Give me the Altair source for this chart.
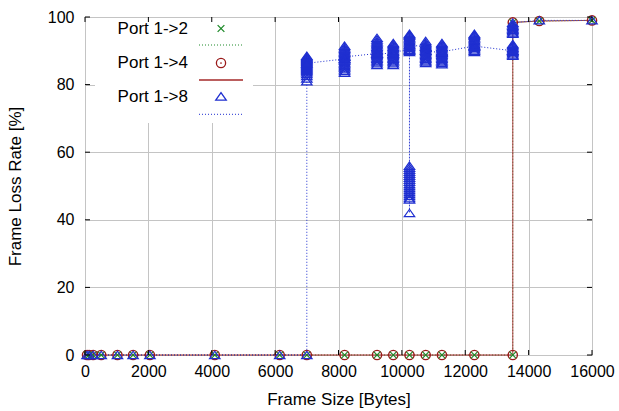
import altair as alt
import pandas as pd

# ---------------- data ----------------
frame_sizes = [64, 128, 256, 512, 1024, 1518, 2048, 4096, 6144, 7000,
               8192, 9216, 9728, 10240, 10752, 11264, 12288, 13500, 14336, 16000]

loss_port_1_2 = [[0], [0], [0], [0], [0], [0], [0], [0], [0], [0],
                 [0], [0], [0], [0], [0], [0], [0], [0, 98.4], [98.8], [99.0]]

loss_port_1_4 = [[0], [0], [0], [0], [0], [0], [0], [0], [0], [0],
                 [0], [0], [0], [0], [0], [0], [0], [0, 98.4], [98.8], [99.0]]

loss_port_1_8 = [
    [0], [0], [0], [0], [0], [0], [0], [0], [0],
    [0, 81.0, 81.8, 82.5, 83.1, 83.6, 84.0, 84.3, 84.6, 84.9, 85.2, 85.5, 85.8, 86.1,
     86.4, 86.7, 87.0, 87.3, 87.6, 87.9, 88.2, 88.5, 86.3],
    [87.6, 83.5, 84.0, 84.5, 85.0, 85.4, 85.8, 86.2, 86.6, 87.0, 87.4, 87.8, 88.2, 88.6,
     89.0, 89.4, 89.8, 90.2, 90.6, 91.0, 91.5, 88.2],
    [89.2, 85.8, 86.3, 86.8, 87.2, 87.6, 88.0, 88.4, 88.8, 89.2, 89.6, 90.0, 90.4, 90.8,
     91.2, 91.6, 92.0, 92.4, 92.8, 93.3, 93.8, 89.2],
    [89.2, 85.8, 86.3, 86.8, 87.2, 87.6, 88.0, 88.4, 88.8, 89.2, 89.6, 90.0, 90.4, 90.8,
     91.2, 91.6, 92.0, 92.3, 89.7],
    [90.2, 89.6, 90.0, 90.4, 90.8, 91.2, 91.6, 92.0, 92.4, 92.8, 93.2, 93.6, 94.0, 94.4,
     94.7, 95.0,
     56.0, 55.4, 54.8, 54.2, 53.6, 53.0, 52.4, 51.8, 51.2, 50.6, 50.0, 49.4, 48.8, 48.2,
     47.6, 47.0, 46.4, 46.0, 42.0, 91.7],
    [91.2, 86.4, 86.8, 87.2, 87.6, 88.0, 88.4, 88.8, 89.2, 89.6, 90.0, 90.4, 90.8, 91.2,
     91.6, 92.0, 92.4, 92.9, 90.0],
    [89.4, 86.0, 86.4, 86.8, 87.2, 87.6, 88.0, 88.4, 88.8, 89.2, 89.6, 90.0, 90.4, 90.8,
     91.2, 91.6, 92.0, 92.3, 89.7],
    [91.4, 89.6, 90.0, 90.4, 90.8, 91.2, 91.6, 92.0, 92.4, 92.8, 93.2, 93.6, 94.0, 94.4,
     94.7, 95.0, 91.4],
    [90.0, 88.5, 88.9, 89.3, 89.7, 90.1, 90.5, 90.9, 91.3, 91.7, 92.0,
     95.0, 95.4, 95.8, 96.2, 96.6, 97.0, 97.4, 97.8, 98.3],
    [99.0],
    [99.0],
]

series_names = ["Port 1->2", "Port 1->4", "Port 1->8"]
series_colors = ["#1f8a2a", "#a52a2a", "#1f2fd0"]

x_ticks = [0, 2000, 4000, 6000, 8000, 10000, 12000, 14000, 16000]
y_ticks = [0, 20, 40, 60, 80, 100]

rows = []
for name, trials in zip(series_names, [loss_port_1_2, loss_port_1_4, loss_port_1_8]):
    k = 0
    for size, vals in zip(frame_sizes, trials):
        for v in vals:
            rows.append({"series": name, "size": size, "loss": v, "order": k})
            k += 1
df = pd.DataFrame(rows)
one = pd.DataFrame({"k": [0]})

W, H = 507, 338
FONT = "Liberation Sans"

xscale = alt.Scale(domain=[0, 16000], nice=False, zero=False)
yscale = alt.Scale(domain=[0, 100], nice=False)

x_enc = alt.X("size:Q", scale=xscale,
              axis=alt.Axis(values=x_ticks, title="Frame Size [Bytes]", format="d",
                            grid=True, gridColor="#c4c4c4", domain=False, ticks=False,
                            labelFontSize=16, labelPadding=8, labelColor="black",
                            titleFontSize=17, titleFontWeight="normal", titleColor="black",
                            titleY=49, titleBaseline="alphabetic", labelFlush=False))
y_enc = alt.Y("loss:Q", scale=yscale,
              axis=alt.Axis(values=y_ticks, title="Frame Loss Rate [%]",
                            grid=True, gridColor="#c4c4c4", domain=False, ticks=False,
                            labelFontSize=16, labelPadding=11, labelColor="black",
                            titleFontSize=17, titleFontWeight="normal", titleColor="black",
                            titleX=-70, titleY=169, titleAngle=-90,
                            titleAlign="center", titleBaseline="middle", labelFlush=False))

color_scale = alt.Scale(domain=series_names, range=series_colors)
dash_scale = alt.Scale(domain=series_names, range=[[1, 2], [1, 0], [1, 2]])

base = alt.Chart(df)

lines = base.mark_line(strokeWidth=1, clip=False).encode(
    x=x_enc, y=y_enc, order="order:Q", detail="series:N",
    color=alt.Color("series:N", scale=color_scale, legend=None),
    strokeDash=alt.StrokeDash("series:N", scale=dash_scale, legend=None),
)

circles = base.transform_filter(alt.datum.series == "Port 1->4").mark_point(
    shape="circle", size=85, filled=False, strokeWidth=1.4, color="#9a1a1a", opacity=1
).encode(x="size:Q", y="loss:Q")

dots = base.transform_filter(alt.datum.series == "Port 1->4").mark_point(
    shape="circle", size=3, filled=True, color="#9a1a1a", opacity=1
).encode(x="size:Q", y="loss:Q")

XPATH = "M-1,-1L1,1M-1,1L1,-1"
TRI = "M0,-0.72L-1,0.68L1,0.68Z"

crosses = base.transform_filter(alt.datum.series == "Port 1->2").mark_point(
    shape=XPATH, size=45, filled=False, strokeWidth=1.2, color="#1f8a2a", opacity=1
).encode(x="size:Q", y="loss:Q")

triangles = base.transform_filter(alt.datum.series == "Port 1->8").mark_point(
    shape=TRI, size=110, filled=False, strokeWidth=1.2, color="#1f2fd0", opacity=1
).encode(x="size:Q", y="loss:Q")

# legend box (covers the grid)
legend_bg = alt.Chart(one).mark_rect(color="white").encode(
    x=alt.value(10), x2=alt.value(168), y=alt.value(1), y2=alt.value(106))

legend_layers = []
legend_text_y = [11.5, 46, 80]
legend_sym_y = [11.5, 46, 79.5]
legend_line_y = [28, 63, 97.3]
legend_shapes = [XPATH, "circle", TRI]
legend_sizes = [45, 85, 110]
legend_sym_colors = ["#1f8a2a", "#9a1a1a", "#1f2fd0"]
for name, col, scol, ty, sy, ly, shp, sz, dash in zip(
        series_names, series_colors, legend_sym_colors, legend_text_y, legend_sym_y,
        legend_line_y, legend_shapes, legend_sizes, [[1, 2], [1, 0], [1, 2]]):
    legend_layers.append(alt.Chart(one).mark_text(
        align="right", baseline="middle", fontSize=17, font=FONT, fontWeight="normal",
        color="black"
    ).encode(x=alt.value(103), y=alt.value(ty), text=alt.value(name)))
    legend_layers.append(alt.Chart(one).mark_point(
        shape=shp, size=sz, filled=False, strokeWidth=1.3, color=scol, opacity=1
    ).encode(x=alt.value(136), y=alt.value(sy)))
    legend_layers.append(alt.Chart(one).mark_rule(
        color=col, strokeWidth=1.5 if dash == [1, 0] else 1, strokeDash=dash
    ).encode(x=alt.value(114), x2=alt.value(158), y=alt.value(ly)))

legend_dot = alt.Chart(one).mark_point(shape="circle", size=3, filled=True,
                                       color="#9a1a1a", opacity=1).encode(
    x=alt.value(136), y=alt.value(46))

# inward ticks on all four sides
xt = pd.DataFrame({"t": x_ticks})
yt = pd.DataFrame({"t": y_ticks})
tick_top = alt.Chart(xt).mark_rule(color="black", strokeWidth=1).encode(
    x=alt.X("t:Q", scale=xscale), y=alt.value(0), y2=alt.value(5))
tick_bot = alt.Chart(xt).mark_rule(color="black", strokeWidth=1).encode(
    x=alt.X("t:Q", scale=xscale), y=alt.value(H - 5), y2=alt.value(H))
tick_left = alt.Chart(yt).mark_rule(color="black", strokeWidth=1).encode(
    y=alt.Y("t:Q", scale=yscale), x=alt.value(0), x2=alt.value(5))
tick_right = alt.Chart(yt).mark_rule(color="black", strokeWidth=1).encode(
    y=alt.Y("t:Q", scale=yscale), x=alt.value(W - 5), x2=alt.value(W))

chart = alt.layer(
    legend_bg, lines, circles, dots, crosses, triangles,
    *legend_layers, legend_dot,
    tick_top, tick_bot, tick_left, tick_right,
).properties(
    width=W, height=H,
    autosize=alt.AutoSizeParams(type="none"),
    padding={"left": 85, "top": 17, "right": 27, "bottom": 56},
).configure_view(
    stroke="black", strokeWidth=1
).configure_axis(
    labelFont=FONT, titleFont=FONT
).configure(background="white")

chart.save("out.html", embed_options={"renderer": "svg", "actions": False})
